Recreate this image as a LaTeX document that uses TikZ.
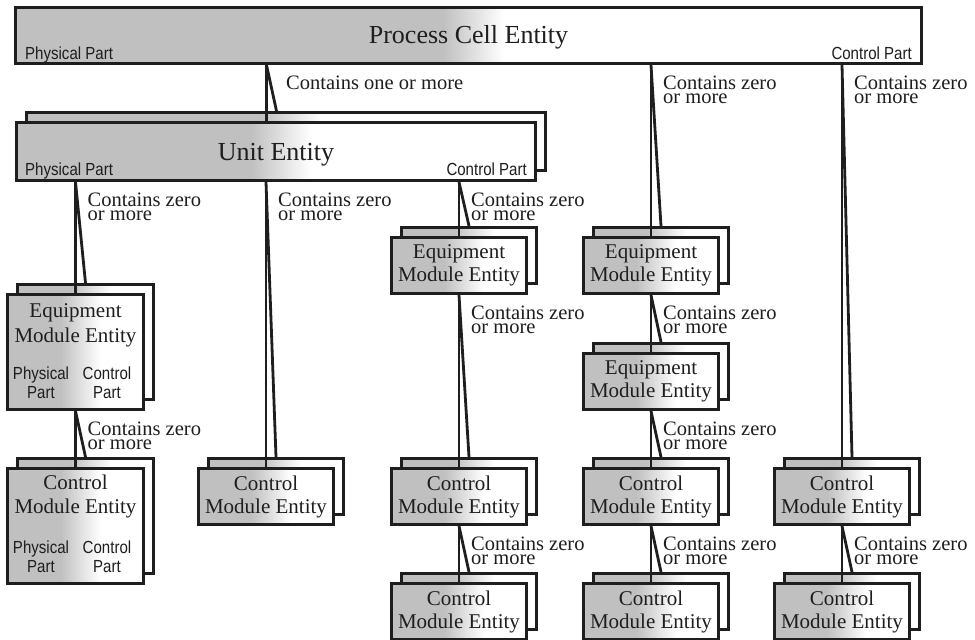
\documentclass[tikz,border=0pt]{standalone}
\usepackage{fontspec}
\setmainfont{Liberation Serif}
\newfontfamily\partfont[FakeStretch=0.86]{Liberation Sans}
\usetikzlibrary{calc}
\definecolor{boxgray}{RGB}{192,192,192}
\definecolor{ink}{RGB}{30,30,30}

% vertical tie plus slanted tie to the back sheet of a stacked entity
\newcommand\linkent[3][0]{%
  \draw[link] ($(#2.south -| #3.north)+(#1,0)$) -- ($(#3.north)+(#1,0)$);
  \draw[link] ($(#2.south -| #3.north)+(#1,0)$) -- ($(#3b.north)+(#1,0)$);
}
% caption beside a tie
\newcommand\linklabel[3]{%
  \node[lbl] (l-#2) at ($(#1.south -| #2.north)+(12,11)$) {#3};
}

\begin{document}
\begin{tikzpicture}[x=1pt,y=-1pt,
  shadefill/.style 2 args={fill=white, path picture={
    \fill[boxgray] (path picture bounding box.south west) rectangle ($(path picture bounding box.north)+(-#1,0)$);
    \shade[left color=boxgray, right color=white] ($(path picture bounding box.south)+(-#1,0)$) rectangle ($(path picture bounding box.north)+(#2,0)$);
  }},
  ent/.style={draw=ink, line width=3pt, inner sep=0pt, anchor=north west, text=ink,
    font=\fontsize{21}{23}\selectfont, align=center},
  smallent/.style={ent, shadefill={15}{25}, minimum width=135pt, minimum height=56pt},
  tallent/.style={ent, shadefill={15}{25}, minimum width=136pt, minimum height=115pt},
  bigent/.style={ent, shadefill={25}{35}},
  link/.style={draw=ink, line width=2.8pt},
  lbl/.style={anchor=north west, inner sep=0pt, text=ink, font=\fontsize{20.5}{13.5}\selectfont, align=left},
  part/.style={inner sep=0pt, text=ink, anchor=base, font=\partfont\fontsize{17.5}{20}\selectfont},
  txt/.style={inner sep=0pt, text=ink, anchor=base, font=\fontsize{21}{23}\selectfont},
  title/.style={inner sep=0pt, text=ink, anchor=base, font=\fontsize{26}{28}\selectfont},
]
\useasboundingbox (0,0) rectangle (975,640);

% ---- process cell ----
\node[bigent, minimum width=906pt, minimum height=56pt] (pc) at (14,6) {};
\node[title] (pc-t) at ($(pc.north)+(0,37)$) {Process Cell Entity};
\node[part, anchor=base west] (pc-p) at ($(pc.south west)+(11,-6)$) {Physical Part};
\node[part, anchor=base east] (pc-c) at ($(pc.south east)+(-11,-6)$) {Control Part};

% ---- unit ----
\node[bigent, minimum width=519pt, minimum height=58pt] (unitb) at (25,111) {};
\node[bigent, minimum width=519pt, minimum height=58pt] (unit) at (15,121) {};
\node[title] (unit-t) at ($(unit.north)+(0,39)$) {Unit Entity};
\node[part, anchor=base west] (unit-p) at ($(unit.south west)+(10,-7)$) {Physical Part};
\node[part, anchor=base east] (unit-c) at ($(unit.south east)+(-10,-7)$) {Control Part};

% ---- column 1: equipment module and control module with parts ----
\node[tallent] (em1b) at (16,283) {};
\node[tallent] (em1) at (6,293) {};
\node[txt] (em1-t1) at ($(em1.north)+(0,24)$) {Equipment};
\node[txt] (em1-t2) at ($(em1.north)+(0,49)$) {Module Entity};
\node[part] (em1-p1) at ($(em1.north west)+(35,86)$) {Physical};
\node[part] (em1-p2) at ($(em1.north west)+(35,105)$) {Part};
\node[part] (em1-c1) at ($(em1.north west)+(101,86)$) {Control};
\node[part] (em1-c2) at ($(em1.north west)+(101,105)$) {Part};

\node[tallent] (cm1b) at (16,457) {};
\node[tallent] (cm1) at (6,467) {};
\node[txt] (cm1-t1) at ($(cm1.north)+(0,22)$) {Control};
\node[txt] (cm1-t2) at ($(cm1.north)+(0,46)$) {Module Entity};
\node[part] (cm1-p1) at ($(cm1.north west)+(35,86)$) {Physical};
\node[part] (cm1-p2) at ($(cm1.north west)+(35,105)$) {Part};
\node[part] (cm1-c1) at ($(cm1.north west)+(101,86)$) {Control};
\node[part] (cm1-c2) at ($(cm1.north west)+(101,105)$) {Part};

% ---- column 2 ----
\node[smallent] (cm2b) at (207,457) {};
\node[smallent] (cm2) at (197,467) {Control\\Module Entity};

% ---- column 3 ----
\node[smallent] (em3b) at (400,226) {};
\node[smallent] (em3) at (390,236) {Equipment\\Module Entity};
\node[smallent] (cm3b) at (400,457) {};
\node[smallent] (cm3) at (390,467) {Control\\Module Entity};
\node[smallent] (cm3xb) at (400,572) {};
\node[smallent] (cm3x) at (390,582) {Control\\Module Entity};

% ---- column 4 ----
\node[smallent] (em4b) at (592,226) {};
\node[smallent] (em4) at (582,236) {Equipment\\Module Entity};
\node[smallent] (em4xb) at (592,342) {};
\node[smallent] (em4x) at (582,352) {Equipment\\Module Entity};
\node[smallent] (cm4b) at (592,457) {};
\node[smallent] (cm4) at (582,467) {Control\\Module Entity};
\node[smallent] (cm4xb) at (592,572) {};
\node[smallent] (cm4x) at (582,582) {Control\\Module Entity};

% ---- column 5 ----
\node[smallent] (cm5b) at (783,457) {};
\node[smallent] (cm5) at (773,467) {Control\\Module Entity};
\node[smallent] (cm5xb) at (783,572) {};
\node[smallent] (cm5x) at (773,582) {Control\\Module Entity};

% ---- containment ties ----
\linkent[-9.5]{pc}{unit}
\node[lbl] (l-unit) at ($(pc.south -| unit.north)+(10,11)$) {Contains one or more};

\linkent{unit}{em1}   \linklabel{unit}{em1}{Contains zero\\or more}
\linkent{em1}{cm1}    \linklabel{em1}{cm1}{Contains zero\\or more}
\linkent{unit}{cm2}   \linklabel{unit}{cm2}{Contains zero\\or more}
\linkent{unit}{em3}   \linklabel{unit}{em3}{Contains zero\\or more}
\linkent{em3}{cm3}    \linklabel{em3}{cm3}{Contains zero\\or more}
\linkent{cm3}{cm3x}   \linklabel{cm3}{cm3x}{Contains zero\\or more}
\linkent{pc}{em4}     \linklabel{pc}{em4}{Contains zero\\or more}
\linkent{em4}{em4x}   \linklabel{em4}{em4x}{Contains zero\\or more}
\linkent{em4x}{cm4}   \linklabel{em4x}{cm4}{Contains zero\\or more}
\linkent{cm4}{cm4x}   \linklabel{cm4}{cm4x}{Contains zero\\or more}
\linkent{pc}{cm5}     \linklabel{pc}{cm5}{Contains zero\\or more}
\linkent{cm5}{cm5x}   \linklabel{cm5}{cm5x}{Contains zero\\or more}

\end{tikzpicture}
\end{document}
